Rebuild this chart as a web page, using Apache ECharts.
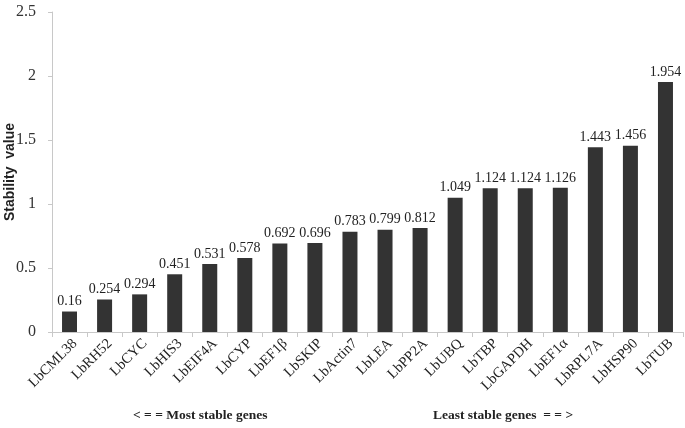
<!DOCTYPE html>
<html>
<head>
<meta charset="utf-8">
<script src="https://cdn.jsdelivr.net/npm/echarts@6/dist/echarts.min.js"></script>
<style>
  html, body { margin: 0; padding: 0; background: #fff; }
  #main { width: 685px; height: 428px; }
</style>
</head>
<body>
<div id="main"></div>
<script>
// genes, ordered from most stable to least stable
const genes = ["LbCML38", "LbRH52", "LbCYC", "LbHIS3", "LbEIF4A", "LbCYP", "LbEF1β", "LbSKIP", "LbActin7",
  "LbLEA", "LbPP2A", "LbUBQ", "LbTBP", "LbGAPDH", "LbEF1α", "LbRPL7A", "LbHSP90", "LbTUB"];
const stability = [0.16, 0.254, 0.294, 0.451, 0.531, 0.578, 0.692, 0.696, 0.783,
  0.799, 0.812, 1.049, 1.124, 1.124, 1.126, 1.443, 1.456, 1.954];
const yTicks = [0, 0.5, 1, 1.5, 2, 2.5];

const serif = "'Liberation Serif', 'Times New Roman', serif";
const chart = echarts.init(document.getElementById("main"));
chart.setOption({
  animation: false,
  grid: { left: 52, right: 2, top: 12, bottom: 96, containLabel: false, outerBoundsMode: "none" },
  xAxis: {
    type: "category",
    data: genes,
    axisLine: { lineStyle: { color: "#c8c8c8", width: 1 } },
    axisTick: { show: true, length: 5, lineStyle: { color: "#c8c8c8" } },
    axisLabel: { rotate: 45, fontFamily: serif, fontSize: 14.5, color: "#222", margin: 4, verticalAlign: "top" }
  },
  yAxis: {
    type: "value",
    min: yTicks[0],
    max: yTicks[yTicks.length - 1],
    interval: 0.5,
    name: "Stability  value",
    nameLocation: "middle",
    nameMoveOverlap: false,
    nameGap: 35,
    nameTextStyle: { fontFamily: "'Liberation Sans', Arial, sans-serif", fontWeight: "bold", fontSize: 14, color: "#222" },
    axisLine: { show: true, lineStyle: { color: "#c8c8c8", width: 1 } },
    axisTick: { show: true, length: 4, lineStyle: { color: "#c8c8c8" } },
    splitLine: { show: false },
    axisLabel: {
      fontFamily: serif, fontSize: 16, color: "#333", margin: 16,
      formatter: v => String(v)
    }
  },
  series: [{
    type: "bar",
    data: stability,
    barWidth: 15,
    itemStyle: { color: "#333333" },
    label: {
      show: true,
      position: "top",
      distance: 3,
      fontFamily: serif,
      fontSize: 14,
      color: "#222",
      formatter: p => String(p.value)
    }
  }],
  graphic: [
    {
      type: "text", left: 133, top: 409,
      style: { text: "< = = Most stable genes", font: "bold 13.5px " + serif, fill: "#222" }
    },
    {
      type: "text", left: 433, top: 409,
      style: { text: "Least stable genes  = = >", font: "bold 13.5px " + serif, fill: "#222" }
    }
  ]
});
</script>
</body>
</html>
